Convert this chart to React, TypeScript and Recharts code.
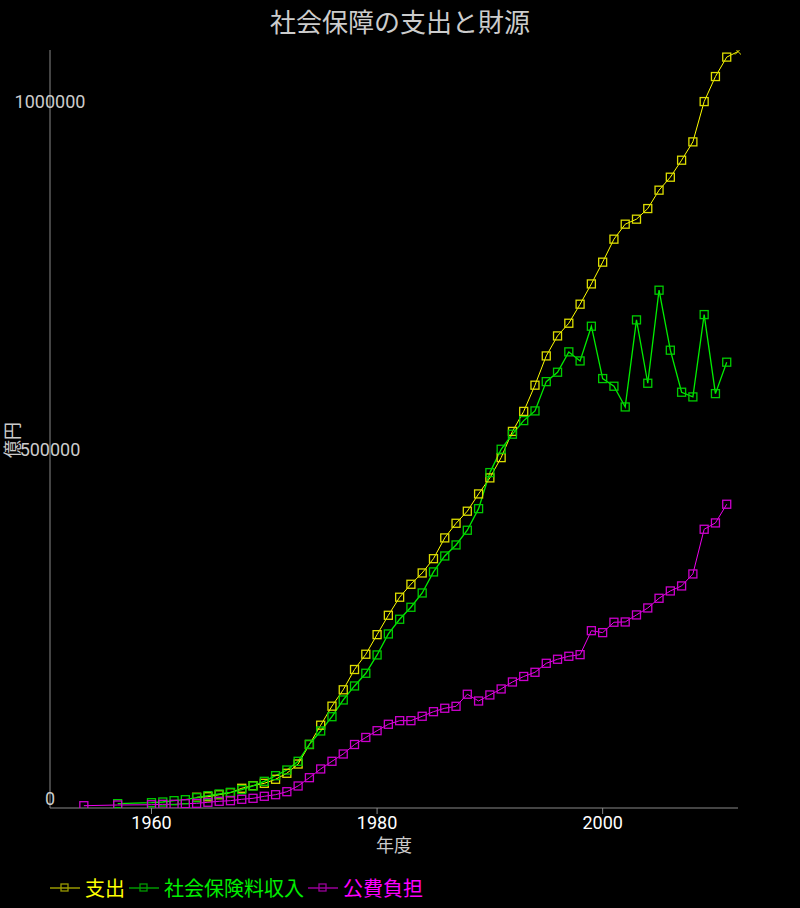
import { LineChart, Line, XAxis, YAxis } from "recharts";

const YEARS = [1954, 1957, 1960, 1961, 1962, 1963, 1964, 1965, 1966, 1967, 1968, 1969, 1970, 1971, 1972, 1973, 1974, 1975, 1976, 1977, 1978, 1979, 1980, 1981, 1982, 1983, 1984, 1985, 1986, 1987, 1988, 1989, 1990, 1991, 1992, 1993, 1994, 1995, 1996, 1997, 1998, 1999, 2000, 2001, 2002, 2003, 2004, 2005, 2006, 2007, 2008, 2009, 2010, 2011, 2012];

// 支出 (from 1964)
const SPENDING = [null, null, null, null, null, null, 15400, 16200, 19100, 22000, 28300, 32000, 35400, 41200, 49800, 63100, 91100, 118800, 146100, 169600, 198700, 220600, 248700, 276500, 302400, 321000, 337200, 357700, 387500, 408500, 425800, 450600, 473600, 502700, 540300, 569000, 606600, 648600, 677300, 695500, 722800, 751900, 783100, 816100, 837600, 844800, 860000, 886400, 905000, 929400, 955700, 1013500, 1049400, 1077300, 1085300];
// 社会保険料収入
const PREMIUMS = [null, 6200, 7600, 8600, 10500, 11900, 14800, 17700, 20100, 22500, 26300, 31600, 38300, 46400, 54500, 67000, 91400, 110500, 131000, 155000, 175100, 193300, 219600, 249700, 270800, 288000, 308500, 338700, 361600, 377400, 398500, 429500, 481200, 514700, 536300, 555800, 569700, 611700, 625200, 654400, 641400, 691200, 616100, 605100, 575400, 700300, 609400, 742900, 656800, 596500, 589800, 707900, 594500, 639600, null];
// 公費負担
const PUBLIC = [3300, 4300, 4700, 5300, 5300, 6200, 6700, 8200, 9600, 10500, 12500, 13900, 16800, 19100, 23400, 31600, 43500, 56000, 67000, 77500, 91100, 101200, 110900, 120100, 125300, 125300, 131600, 138200, 143100, 145900, 163200, 153500, 162200, 170800, 180800, 188700, 194700, 207600, 213400, 217700, 220000, 254400, 251600, 266500, 266900, 277000, 287000, 300900, 311400, 318600, 335800, 399900, 409000, 435800, null];

const X_TICKS = [1960, 1980, 2000];
const Y_TICKS = [0, 500000, 1000000];

const rows = YEARS.map((year, i) => ({
  year,
  spending: SPENDING[i],
  premiums: PREMIUMS[i],
  publicBurden: PUBLIC[i],
}));

const FONT = "Roboto, 'Noto Sans CJK JP', sans-serif";

const boxDot = (color: string) => (props: any) => {
  const { cx, cy, payload, index } = props;
  if (cx == null || cy == null) return <g key={index} />;
  if (payload.year === 2012) {
    return (
      <g key={index} stroke={color} strokeWidth={1}>
        <line x1={cx - 3} y1={cy - 3} x2={cx + 3} y2={cy + 3} />
        <line x1={cx - 3} y1={cy + 3} x2={cx + 3} y2={cy - 3} />
      </g>
    );
  }
  return (
    <rect key={index} x={cx - 4} y={cy - 4} width={8} height={8} fill="none" stroke={color} strokeWidth={1.3} />
  );
};

const YTick = (props: any) => {
  const { y, payload } = props;
  return (
    <text x={50} y={y - 3} textAnchor="middle" fill="#cccccc" fontSize={18} fontFamily={FONT}>
      {payload.value}
    </text>
  );
};

const LEGEND = [
  { label: "支出", line: "#999900", text: "#ffff00" },
  { label: "社会保険料収入", line: "#009900", text: "#00ee00" },
  { label: "公費負担", line: "#990099", text: "#ff00ff" },
];

export default function App() {
  return (
    <div style={{ position: "absolute", left: 0, top: 0, width: 800, height: 908, background: "#000", fontFamily: FONT }}>
      <div style={{ position: "absolute", top: 2, width: 800, textAlign: "center", color: "#cccccc", fontSize: 26 }}>
        社会保障の支出と財源
      </div>
      <LineChart width={800} height={908} data={rows} margin={{ top: 50, right: 62, left: 0, bottom: 0 }}>
        <XAxis
          dataKey="year"
          type="number"
          domain={[1951, 2012]}
          ticks={X_TICKS}
          height={100}
          stroke="#888888"
          tickSize={6}
          tick={{ fill: "#ffffff", fontSize: 18, fontFamily: FONT }}
          label={{ value: "年度", position: "insideTop", offset: 31, fill: "#cccccc", fontSize: 18, fontFamily: FONT }}
        />
        <YAxis
          type="number"
          domain={[0, 1087500]}
          ticks={Y_TICKS}
          width={50}
          stroke="#888888"
          tickLine={false}
          tick={<YTick />}
          allowDataOverflow
        />
        <Line dataKey="spending" stroke="#ffff00" strokeWidth={1} dot={boxDot("#dddd00")} connectNulls isAnimationActive={false} />
        <Line dataKey="premiums" stroke="#00ee00" strokeWidth={1.3} dot={boxDot("#00cc00")} connectNulls isAnimationActive={false} />
        <Line dataKey="publicBurden" stroke="#ee00ee" strokeWidth={1} dot={boxDot("#cc00cc")} connectNulls isAnimationActive={false} />
      </LineChart>
      <div style={{ position: "absolute", left: 2, top: 436, width: 22, color: "#cccccc", fontSize: 18, transform: "rotate(-90deg)", transformOrigin: "center", lineHeight: "22px", whiteSpace: "nowrap" }}>
        億円
      </div>
      <div style={{ position: "absolute", left: 50, top: 873, display: "flex", alignItems: "center", fontSize: 20 }}>
        {LEGEND.map((l) => (
          <div key={l.label} style={{ display: "flex", alignItems: "center", marginRight: 4 }}>
            <svg width={30} height={12}>
              <line x1={0} y1={6} x2={30} y2={6} stroke={l.line} strokeWidth={1.5} />
              <rect x={11} y={2} width={7} height={7} fill="none" stroke={l.line} strokeWidth={1.3} />
            </svg>
            <span style={{ color: l.text, marginLeft: 5 }}>{l.label}</span>
          </div>
        ))}
      </div>
    </div>
  );
}
